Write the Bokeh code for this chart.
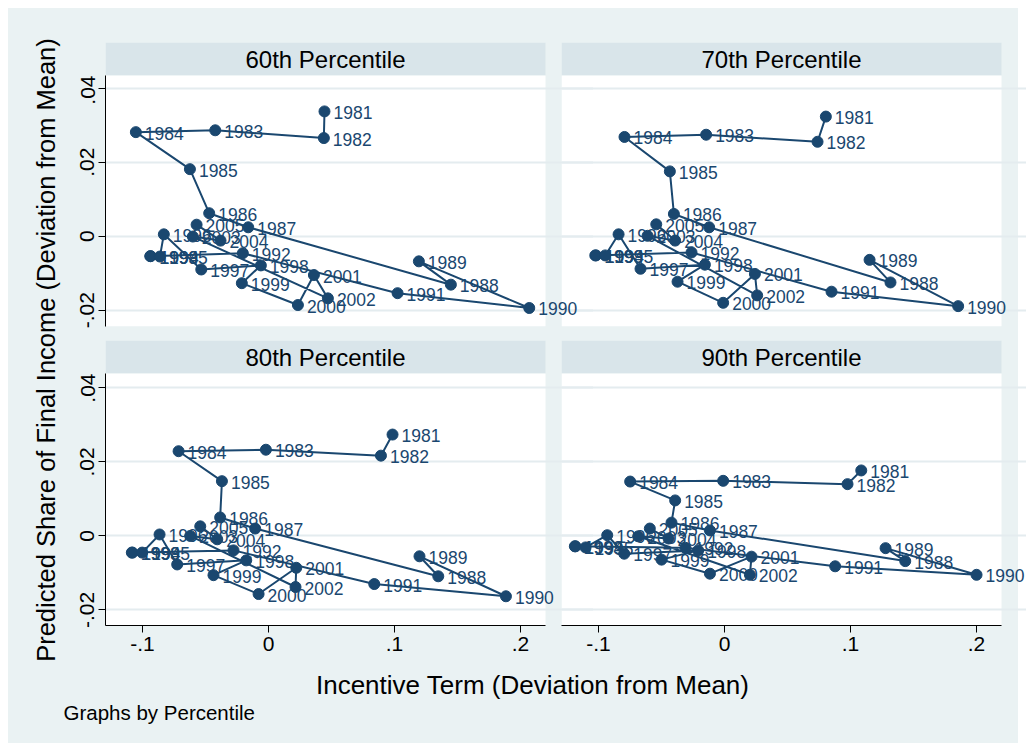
import math
from bokeh.plotting import figure
from bokeh.layouts import row, column
from bokeh.models import (Range1d, FixedTicker, Label, LabelSet, ColumnDataSource,
                          BoxAnnotation)
from bokeh.core.properties import value
from bokeh.embed import file_html
from bokeh.resources import INLINE

# ---------------- data ----------------
years = list(range(1981, 2006))
panel_titles = ["60th Percentile", "70th Percentile", "80th Percentile", "90th Percentile"]

x60 = [0.0444, 0.0439, -0.0423, -0.1053, -0.0624, -0.0471, -0.0161, 0.1447, 0.1193, 0.2069,
       0.1024, -0.0204, -0.0939, -0.0935, -0.0862, -0.0831, -0.0534, -0.0061, -0.0212, 0.0233,
       0.0360, 0.0471, -0.0601, -0.0381, -0.0571]
y60 = [0.0337, 0.0265, 0.0286, 0.0281, 0.0181, 0.0062, 0.0024, -0.0131, -0.0068, -0.0194,
       -0.0154, -0.0046, -0.0054, -0.0054, -0.0055, 0.0005, -0.0090, -0.0079, -0.0127, -0.0186,
       -0.0105, -0.0168, -0.0001, -0.0012, 0.0031]

x70 = [0.0804, 0.0738, -0.0146, -0.0794, -0.0434, -0.0402, -0.0122, 0.1317, 0.1151, 0.1854,
       0.0849, -0.0262, -0.1026, -0.1020, -0.0947, -0.0841, -0.0667, -0.0156, -0.0373, -0.0011,
       0.0241, 0.0259, -0.0611, -0.0392, -0.0542]
y70 = [0.0323, 0.0255, 0.0274, 0.0268, 0.0175, 0.0060, 0.0024, -0.0125, -0.0064, -0.0189,
       -0.0150, -0.0044, -0.0052, -0.0052, -0.0052, 0.0005, -0.0088, -0.0077, -0.0123, -0.0180,
       -0.0102, -0.0160, 0.0001, -0.0012, 0.0032]

x80 = [0.0984, 0.0892, -0.0021, -0.0714, -0.0370, -0.0384, -0.0106, 0.1347, 0.1198, 0.1884,
       0.0839, -0.0278, -0.1085, -0.1080, -0.1003, -0.0865, -0.0725, -0.0177, -0.0437, -0.0079,
       0.0220, 0.0214, -0.0622, -0.0407, -0.0542]
y80 = [0.0274, 0.0217, 0.0233, 0.0229, 0.0148, 0.0050, 0.0020, -0.0109, -0.0055, -0.0163,
       -0.0130, -0.0039, -0.0045, -0.0045, -0.0045, 0.0004, -0.0077, -0.0066, -0.0106, -0.0157,
       -0.0086, -0.0138, 0.0000, -0.0009, 0.0026]

x90 = [0.1085, 0.0976, -0.0011, -0.0749, -0.0392, -0.0421, -0.0116, 0.1434, 0.1278, 0.2000,
       0.0878, -0.0310, -0.1188, -0.1183, -0.1103, -0.0931, -0.0796, -0.0209, -0.0500, -0.0116,
       0.0214, 0.0201, -0.0685, -0.0444, -0.0593]
y90 = [0.0177, 0.0140, 0.0149, 0.0147, 0.0096, 0.0036, 0.0015, -0.0068, -0.0033, -0.0105,
       -0.0082, -0.0032, -0.0028, -0.0028, -0.0031, 0.0002, -0.0048, -0.0039, -0.0064, -0.0102,
       -0.0056, -0.0105, -0.0001, -0.0007, 0.0020]

xtick_vals = [-0.1, 0.0, 0.1, 0.2]
xtick_labels = ["-.1", "0", ".1", ".2"]
ytick_vals = [-0.02, 0.0, 0.02, 0.04]
ytick_labels = ["-.02", "0", ".02", ".04"]

x_title = "Incentive Term (Deviation from Mean)"
y_title = "Predicted Share of Final Income (Deviation from Mean)"
note = "Graphs by Percentile"

# ---------------- style ----------------
BG = "#EAF2F3"
HEAD = "#D9E5EA"
NAVY = "#1A476F"
GRID = "#E4ECEF"
FONT = "Liberation Sans"

X_RANGE = (-0.1294, 0.2198)   # visible panel extent
Y_TOP = (-0.0244, 0.0434)
Y_BOT = (-0.0242, 0.0439)
PANEL_W = 440                 # width in px of the white panel area / header strip

EXT_L = 40   # extra transparent room so labels may run past the left panels
EXT_R = 8    # extra transparent room past the right panels
LW, RW = 483 + EXT_L, 465 + EXT_R
L_BORDER, R_BORDER = 35, 8     # left borders of the two columns


def base(width, height, xr, yr, mbl, mbt, mbb, xloc=None, yloc=None):
    p = figure(width=width, height=height, x_range=Range1d(*xr), y_range=Range1d(*yr),
               output_backend="svg", toolbar_location=None, title=None,
               x_axis_location=xloc, y_axis_location=yloc,
               min_border_left=mbl, min_border_right=0,
               min_border_top=mbt, min_border_bottom=mbb)
    p.background_fill_color = None
    p.background_fill_alpha = 0
    p.border_fill_color = None
    p.border_fill_alpha = 0
    p.outline_line_color = None
    return p


def header(title, width, mbl, height, mbt):
    # frame runs to the figure edge; the coloured strip covers x in [0, 1]
    frame_w = width - mbl
    h = base(width, height, (0, frame_w / PANEL_W), (0, 1), mbl, mbt, 0)
    h.xgrid.visible = False
    h.ygrid.visible = False
    h.add_layout(BoxAnnotation(left=0, right=1, fill_color=HEAD, fill_alpha=1,
                               line_color=None, level="image"))
    h.add_layout(Label(x=0.5, y=0.5, text=title, text_align="center", text_baseline="middle",
                       text_font_size="24px", text_font=FONT, text_color="black"))
    return h


def panel(xs, ys, width, height, yr, mbl, mbb, left, bottom):
    # the frame runs on past the white panel (transparent there), so labels are not cut
    frame_w = width - mbl
    x_end = X_RANGE[0] + (X_RANGE[1] - X_RANGE[0]) * frame_w / PANEL_W
    p = base(width, height, (X_RANGE[0], x_end), yr, mbl, 0, mbb,
             xloc="below" if bottom else None, yloc="left" if left else None)
    p.add_layout(BoxAnnotation(left=X_RANGE[0], right=X_RANGE[1], bottom=yr[0], top=yr[1],
                               fill_color="white", fill_alpha=1, line_color=None,
                               level="image"))
    p.xgrid.visible = False
    p.ygrid.ticker = FixedTicker(ticks=ytick_vals)
    p.ygrid.grid_line_color = GRID
    p.ygrid.grid_line_width = 2
    p.ygrid.bounds = X_RANGE
    for ax in p.xaxis:
        ax.ticker = FixedTicker(ticks=xtick_vals)
        ax.major_label_overrides = dict(zip(xtick_vals, xtick_labels))
        ax.bounds = X_RANGE
    for ax in p.yaxis:
        ax.ticker = FixedTicker(ticks=ytick_vals)
        ax.major_label_overrides = dict(zip(ytick_vals, ytick_labels))
        ax.major_label_orientation = "vertical"
    for ax in list(p.xaxis) + list(p.yaxis):
        ax.axis_line_color = "black"
        ax.axis_line_width = 1
        ax.major_tick_line_color = "black"
        ax.major_tick_out = 7
        ax.major_tick_in = 0
        ax.minor_tick_line_color = None
        ax.major_label_text_font = FONT
        ax.major_label_text_font_size = "21px"
        ax.major_label_text_color = "black"
        ax.major_label_standoff = 4
    src = ColumnDataSource(dict(x=xs, y=ys, lab=[str(v) for v in years]))
    p.line("x", "y", source=src, line_color=NAVY, line_width=2)
    p.scatter("x", "y", source=src, size=11, fill_color=NAVY, line_color=NAVY)
    p.add_layout(LabelSet(x="x", y="y", text="lab", source=src, x_offset=9, y_offset=-1,
                          text_baseline="middle", text_align="left",
                          text_font_size=value("17.5px"), text_font=value(FONT),
                          text_color=NAVY))
    return p


h1 = header(panel_titles[0], LW, L_BORDER, 67, 34)
h2 = header(panel_titles[1], RW, R_BORDER, 67, 34)
p1 = panel(x60, y60, LW, 258, Y_TOP, L_BORDER, 7, True, False)
p2 = panel(x70, y70, RW, 258, Y_TOP, R_BORDER, 7, False, False)
h3 = header(panel_titles[2], LW, L_BORDER, 40, 7)
h4 = header(panel_titles[3], RW, R_BORDER, 40, 7)
p3 = panel(x80, y80, LW, 292, Y_BOT, L_BORDER, 40, True, True)
p4 = panel(x90, y90, RW, 292, Y_BOT, R_BORDER, 40, False, True)

yfig = base(62, 657, (0, 1), (0, 1), 0, 0, 0)
yfig.xgrid.visible = False
yfig.ygrid.visible = False
yfig.add_layout(Label(x=0.6, y=0.4802, text=y_title, angle=math.pi / 2, text_align="center",
                      text_baseline="middle", text_font_size="25.5px", text_font=FONT,
                      text_color="black"))

bfig = base(1010, 78, (0, 1), (0, 1), 0, 0, 0)
bfig.xgrid.visible = False
bfig.ygrid.visible = False
bfig.add_layout(Label(x=0.519, y=0.744, text=x_title, text_align="center",
                      text_baseline="middle", text_font_size="26px", text_font=FONT,
                      text_color="black"))
bfig.add_layout(Label(x=0.0545, y=0.397, text=note, text_align="left",
                      text_baseline="middle", text_font_size="20.5px", text_font=FONT,
                      text_color="black"))

left_col = column(h1, p1, h3, p3, spacing=0,
                  styles={"margin-right": f"-{EXT_L}px", "z-index": "2"})
right_col = column(h2, p2, h4, p4, spacing=0,
                   styles={"margin-right": f"-{EXT_R}px", "z-index": "1"})

layout = column(row(yfig, left_col, right_col, spacing=0), bfig, spacing=0,
                styles={"margin": "8px", "background-color": BG, "width": "1010px"})

open("out.html", "w").write(file_html(layout, INLINE))
